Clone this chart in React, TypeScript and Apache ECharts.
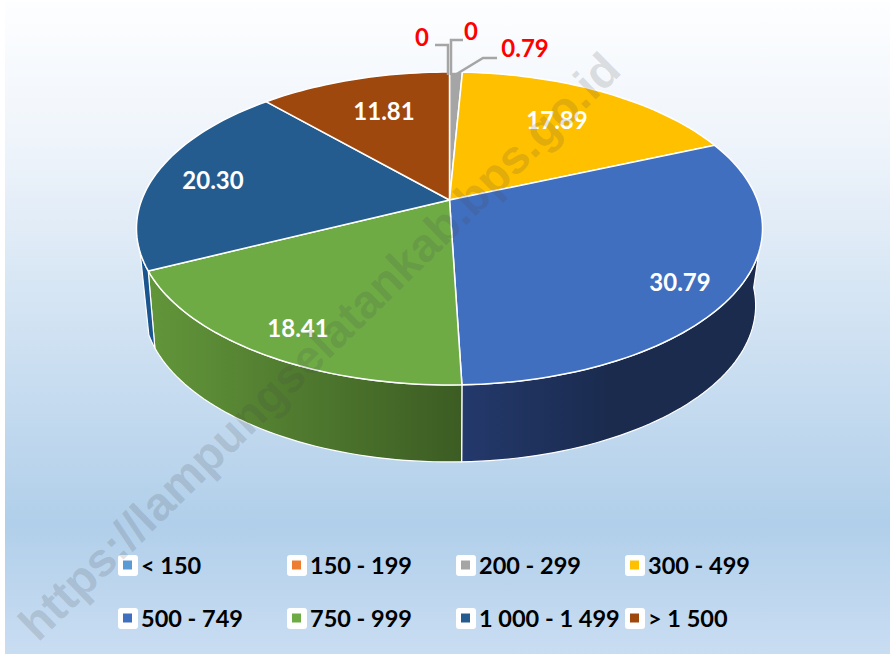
import React, { useEffect, useRef } from "react";
import * as echarts from "echarts";

const categories = ["< 150", "150 - 199", "200 - 299", "300 - 499", "500 - 749", "750 - 999", "1 000 - 1 499", "> 1 500"];
const values = [0, 0, 0.79, 17.89, 30.79, 18.41, 20.3, 11.81];
const valueLabels = ["0", "0", "0.79", "17.89", "30.79", "18.41", "20.30", "11.81"];
const colors = ["#5b9bd5", "#ed7d31", "#a5a5a5", "#ffc000", "#416fc0", "#6eab45", "#255c8f", "#9e480e"];
const wallColors = [
  ["#5b9bd5", "#5b9bd5"],
  ["#ed7d31", "#ed7d31"],
  ["#777777", "#777777"],
  ["#a08000", "#a08000"],
  ["#24396c", "#1a2b4e"],
  ["#62963a", "#3c5c23"],
  ["#1b5590", "#1b5590"],
  ["#6e3209", "#6e3209"],
];
const wallGradientEnds = [1, 1, 1, 1, 0.5, 1, 1, 1];
const labelAt = [
  [422, 36],
  [471, 30],
  [525, 47],
  [557, 119],
  [680, 281],
  [298, 327],
  [213, 179],
  [384, 110],
];
const labelColors = ["#ff0000", "#ff0000", "#ff0000", "#ffffff", "#ffffff", "#ffffff", "#ffffff", "#ffffff"];
const leaders: number[][][] = [
  [[435, 45], [448, 45], [448, 75]],
  [[463, 40], [451, 40], [451, 75]],
  [[497, 58], [483, 58], [455, 75]],
];
const legendColumns = [118, 287, 456, 625];
const legendRows = [555, 608];
const watermark = "https://lampungselatankab.bps.go.id";

const FONT = "Lato, Carlito, sans-serif";
const APEX_X = 449.5;
const APEX_Y = 200;
const RADIUS = 307.8;
const SQUASH = 151.3;
const PERSP = -0.182;
const DEPTH_Y = 77;
const BOTTOM_SCALE = 0.978;
const WALL_FROM = 109;
const WALL_TO = 251;
const FLOOR_FROM = 94;
const FLOOR_TO = 249;

const total = values.reduce((a, b) => a + b, 0);
const rad = (deg: number) => (deg * Math.PI) / 180;

function top(deg: number, f = 1) {
  const u = Math.sin(rad(deg)) * f;
  const v = -Math.cos(rad(deg)) * f;
  const d = 1 + PERSP * v;
  return [APEX_X + (RADIUS * u) / d, APEX_Y + (SQUASH * v) / d];
}
function bottom(deg: number) {
  const p = top(deg);
  return [APEX_X + (p[0] - APEX_X) * BOTTOM_SCALE, p[1] + DEPTH_Y];
}
function arc(a: number, b: number, fn: (d: number) => number[]) {
  const n = Math.max(2, Math.ceil(Math.abs(b - a) / 1.5));
  const out: number[][] = [];
  for (let i = 0; i <= n; i++) out.push(fn(a + ((b - a) * i) / n));
  return out;
}

function makeRender(index: number) {
  return (_params: any, api: any) => {
    const value = api.value(0);
    let before = 0;
    for (let i = 0; i < index; i++) before += values[i];
    const start = (before / total) * 360;
    const end = ((before + value) / total) * 360;
    const children: any[] = [];
    const w0 = Math.max(start, WALL_FROM);
    const w1 = Math.min(end, WALL_TO);
    if (w1 > w0) {
      const upper = arc(w0, w1, (d) => top(d));
      const lowerStart = end > WALL_TO ? FLOOR_TO : w1;
      const lowerEnd = start < WALL_FROM ? FLOOR_FROM : w0;
      const lower = arc(lowerStart, lowerEnd, bottom);
      children.push({
        type: "polygon",
        shape: { points: upper.concat(lower) },
        style: {
          fill: new echarts.graphic.LinearGradient(0, 0, 1, 0, [
            { offset: 0, color: wallColors[index][0] },
            { offset: wallGradientEnds[index], color: wallColors[index][1] },
            { offset: 1, color: wallColors[index][1] },
          ]),
          stroke: "#ffffff",
          lineWidth: 1.2,
          lineJoin: "round",
        },
      });
    }
    if (value > 0) {
      children.push({
        type: "polygon",
        shape: { points: [[APEX_X, APEX_Y]].concat(arc(start, end, (d) => top(d))) },
        style: { fill: colors[index], stroke: "#ffffff", lineWidth: 1.5, lineJoin: "round" },
      });
    }
    return { type: "group", children };
  };
}

function makeLabelRender(index: number) {
  return () => {
    const children: any[] = [];
    if (leaders[index]) {
      children.push({
        type: "polyline",
        shape: { points: leaders[index] },
        style: { fill: "none", stroke: "#a5a5a5", lineWidth: 2.5 },
      });
    }
    children.push({
      type: "text",
      x: labelAt[index][0],
      y: labelAt[index][1],
      style: {
        text: valueLabels[index],
        font: `bold 24px ${FONT}`,
        fill: labelColors[index],
        align: "center",
        verticalAlign: "middle",
      },
    });
    return { type: "group", children };
  };
}

export default function App() {
  const ref = useRef<HTMLDivElement>(null);
  useEffect(() => {
    document.body.style.margin = "0";
    const chart = echarts.init(ref.current!, undefined, { renderer: "svg" });
    const slices = categories.map((name, i) => ({
      type: "custom",
      name,
      coordinateSystem: "none",
      silent: true,
      z: 2,
      itemStyle: { color: colors[i] },
      data: [[values[i]]],
      renderItem: makeRender(i),
    }));
    const labels = categories.map((name, i) => ({
      type: "custom",
      name: `${name} label`,
      coordinateSystem: "none",
      silent: true,
      z: 3,
      data: [[values[i]]],
      renderItem: makeLabelRender(i),
    }));
    chart.setOption({
      animation: false,
      tooltip: { show: false },
      legend: categories.map((name, i) => ({
        data: [name],
        left: legendColumns[i % 4] + 5,
        top: legendRows[Math.floor(i / 4)] - 2,
        icon: "rect",
        itemWidth: 9,
        itemHeight: 9,
        itemGap: 0,
        padding: 0,
        selectedMode: false,
        z: 5,
        textStyle: { fontFamily: FONT, fontWeight: "bold", fontSize: 23.5, color: "#000000", padding: [0, 0, 2, 4] },
      })),
      graphic: {
        elements: [
          {
            type: "rect",
            z: -1,
            shape: { x: 5, y: 2, width: 885, height: 652 },
            style: {
              fill: new echarts.graphic.LinearGradient(0, 0, 0, 1, [
                { offset: 0, color: "#fdfeff" },
                { offset: 0.2, color: "#f0f5fb" },
                { offset: 0.8, color: "#b1cfea" },
                { offset: 1, color: "#c9ddf2" },
              ]),
            },
          },
          ...categories.map((_, i) => ({
            type: "rect",
            z: 1,
            shape: { x: legendColumns[i % 4], y: legendRows[Math.floor(i / 4)], width: 20, height: 21, r: 3 },
            style: { fill: "#ffffff" },
          })),
          {
            type: "text",
            z: 100,
            x: 319,
            y: 346,
            rotation: rad(44.3),
            style: {
              text: watermark,
              font: "bold 47px 'Liberation Sans', sans-serif",
              fill: "rgba(70,70,70,0.17)",
              align: "center",
              verticalAlign: "middle",
            },
          },
        ],
      },
      series: [...slices, ...labels],
    });
    return () => chart.dispose();
  }, []);
  return <div ref={ref} style={{ width: 891, height: 654 }} />;
}
